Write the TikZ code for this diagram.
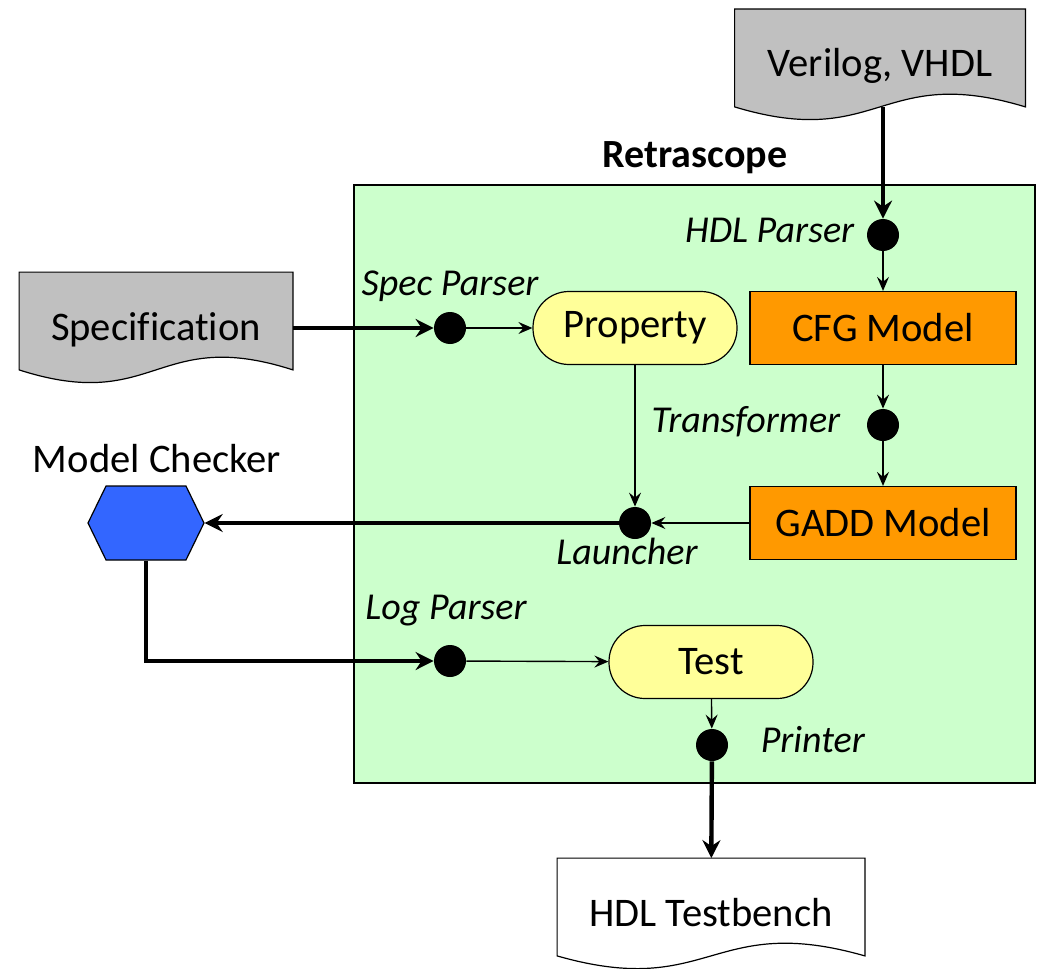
\documentclass[tikz,border=0pt]{standalone}
\usepackage{fontspec}
\setmainfont{Carlito}[Ligatures=NoCommon]
\usetikzlibrary{positioning, arrows.meta, shapes.symbols, backgrounds}

\definecolor{panelgreen}{HTML}{CCFFCC}
\definecolor{docgray}{HTML}{C0C0C0}
\definecolor{propyellow}{HTML}{FFFF99}
\definecolor{modelorange}{HTML}{FF9900}
\definecolor{checkblue}{HTML}{3366FF}

% Outline of a document (wavy bottom) around node #1
\newcommand{\docshape}[2]{%
  \draw[fill=#2, line width=0.6pt] (#1.north west) -- (#1.north east) -- (#1.south east)
    .. controls ([yshift=22pt]#1.south) and ([yshift=-22pt]#1.south) .. (#1.south west) -- cycle;}

\tikzset{
  txt/.style={font=\fontsize{20.3}{24}\selectfont},
  lbl/.style={font=\fontsize{19}{22}\selectfont\itshape, inner sep=1pt},
  doc/.style={txt, minimum width=#1, minimum height=48.5pt, inner sep=0pt,
    text height=19pt, text depth=0pt},
  state/.style={txt, draw, line width=0.6pt, fill=propyellow, rounded corners=18pt,
    minimum width=102pt, minimum height=36.5pt},
  model/.style={txt, draw, line width=0.6pt, fill=modelorange,
    minimum width=133pt, minimum height=36.5pt},
  dot/.style={circle, fill=black, minimum size=16pt, inner sep=0pt},
  flow/.style={line width=0.7pt, -{Stealth[length=7pt, width=6pt, inset=2.5pt]}},
  bigflow/.style={line width=2.2pt, -{Stealth[length=9pt, width=9pt, inset=3pt]}},
}

\begin{document}
\begin{tikzpicture}[x=0.5pt, y=-0.5pt]
\useasboundingbox (0,0) rectangle (1048,968);
% Retrascope panel
\draw[fill=panelgreen, line width=0.6pt] (354,185) rectangle (1035,783);
\node[font=\fontsize{20}{24}\selectfont\bfseries] (tool) at (695,158) {Retrascope};

% Input and output documents
\node[doc=145pt] (ver) at (880,58) {Verilog, VHDL};
\node[doc=136.5pt] (spec) at (156,321) {Specification};
\node[doc=153.5pt] (bench) at (711,907) {HDL Testbench};
\begin{scope}[on background layer]
  \docshape{ver}{docgray}
  \docshape{spec}{docgray}
  \docshape{bench}{white}
\end{scope}

% Tool stages
\node[dot] (hdl) at (883,235) {};
\node[dot] (sp) at (450,328) {};
\node[dot] (trans) at (883,425) {};
\node[dot] (launch) at (635,523) {};
\node[dot] (logp) at (450,661) {};
\node[dot] (print) at (712,745) {};
\node[lbl, left=5pt of hdl, yshift=2.5pt] {HDL Parser};
\node[lbl, above=4pt of sp] {Spec Parser};
\node[lbl, left=12pt of trans, yshift=1.5pt] {Transformer};
\node[lbl, below=-2pt of launch, xshift=-4pt] {Launcher};
\node[lbl, above=8pt of logp, xshift=-2pt] {Log Parser};
\node[lbl, right=15pt of print, yshift=2.5pt] {Printer};

% Data
\node[state] (prop) at (635,328) {Property};
\node[model] (cfg) at (883,328) {CFG Model};
\node[model] (gadd) at (883,523) {GADD Model};
\node[state] (test) at (711,662) {Test};

% External model checker
\node[signal, signal to=east and west, signal pointer angle=128, draw, fill=checkblue,
  line width=0.6pt, minimum width=58pt, minimum height=37pt, inner sep=0pt] (chk) at (146,523) {};
\node[txt, above=3pt of chk, xshift=5.5pt] {Model Checker};

% Flow
\draw[bigflow] (ver.south -| hdl) -- (hdl);
\draw[flow] (hdl) -- (cfg);
\draw[bigflow] (spec.east |- sp) -- (sp);
\draw[flow] (sp) -- (prop);
\draw[flow] (cfg) -- (trans);
\draw[flow] (trans) -- (gadd);
\draw[flow] (gadd) -- (launch);
\draw[flow] (prop) -- (launch);
\draw[bigflow] (launch) -- (chk.east);
\draw[bigflow] (chk.south) |- (logp);
\draw[flow] (logp) -- (test);
\draw[flow] (test) -- (print);
\draw[bigflow] (print) -- (bench);
\end{tikzpicture}
\end{document}
